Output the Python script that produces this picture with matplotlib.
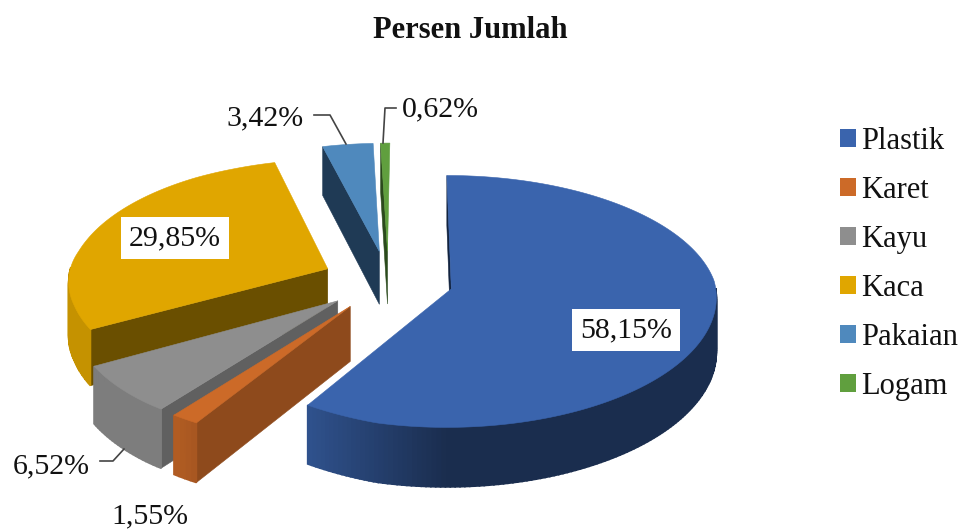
import numpy as np
import matplotlib
matplotlib.use("Agg")
import matplotlib.pyplot as plt
from matplotlib.patches import Polygon, Patch

plt.rcParams['font.family'] = ['Liberation Serif', 'DejaVu Serif']

# --- data ---
categories = ['Plastik', 'Karet', 'Kayu', 'Kaca', 'Pakaian', 'Logam']
values = [58.15, 1.55, 6.52, 29.85, 3.42, 0.62]
title = 'Persen Jumlah'

# --- style ---
top_colors = ['#3A64AD', '#CC6A28', '#8E8E8E', '#E0A600', '#4F89BD', '#609F3E']
cut_colors = ['#12233F', '#8E4A1C', '#606060', '#6A4F00', '#1F3A55', '#2B4A1C']

# --- layout (pixel space) ---
W, H = 963, 529
CX, CY, RX, RY, K, DEPTH, EXPLODE = 388, 281, 263, 125, 0.087, 54, 0.25
label_pos = [(626, 330), (150, 516), (51, 466.5), (175, 238), (265, 118.5), (440, 109.5)]
boxed = [True, False, False, True, False, False]
leaders = {2: [(100, 461), (113, 461), (124, 449)],
           4: [(314, 115), (330, 115), (346, 144)],
           5: [(396, 108), (385, 108), (383, 143)]}


def project(u, v, z=0.0):
    s = 1.0 / (1.0 + K * v)
    x = CX + RX * u * s
    y = CY - RY * v * s + DEPTH * z * s
    # small corrections for the reference's camera
    x += 11 * min(v, 0.0)
    x += 3 * np.clip(v, 0, 1) * np.clip((0.1 - u) / 0.1, 0, 1)
    x += 4 * np.clip((-u - 0.8) / 0.4, 0, 1)
    y -= 8 * np.clip(-u / 0.6, 0, 1) * np.clip(0.5 - 2 * v, 0, 1)
    y += 3 * np.clip(v, 0, 1)
    return x, y


def shade(hex_color, f):
    rgb = np.array(matplotlib.colors.to_rgb(hex_color)) * f
    return tuple(np.clip(rgb, 0, 1))


def wall_factor(theta):
    return min(0.88, 0.45 + 0.75 * max(0.0, -np.cos(theta)))


fig = plt.figure(figsize=(W / 100, H / 100), dpi=100)
ax = fig.add_axes([0, 0, 1, 1])
ax.set_xlim(0, W)
ax.set_ylim(H, 0)
ax.axis('off')

fractions = np.array(values) / np.sum(values)
edges = np.pi / 2 - 2 * np.pi * np.concatenate([[0], np.cumsum(fractions)])
mids = (edges[:-1] + edges[1:]) / 2
order = np.argsort(-np.sin(mids))


def add_poly(pts, color, z, lw=0.4):
    ax.add_patch(Polygon(pts, closed=True, facecolor=color, edgecolor=color,
                         linewidth=lw, zorder=z))


for rank, i in enumerate(order):
    a, b = edges[i], edges[i + 1]
    ox, oy = EXPLODE * np.cos(mids[i]), EXPLODE * np.sin(mids[i])
    thetas = np.linspace(a, b, max(4, int((a - b) * 60)))
    z = 2 + rank
    # cut faces that look toward the viewer
    for ang, visible in ((a, np.cos(a) < 1e-6), (b, np.cos(b) > 1e-6)):
        if visible:
            ou, ov = ox + np.cos(ang), oy + np.sin(ang)
            add_poly([project(ox, oy), project(ou, ov),
                      project(ou, ov, 1), project(ox, oy, 1)], cut_colors[i], z)
    # rim
    for t0, t1 in zip(thetas[:-1], thetas[1:]):
        if np.sin((t0 + t1) / 2) < 0:
            u0, v0 = ox + np.cos(t0), oy + np.sin(t0)
            u1, v1 = ox + np.cos(t1), oy + np.sin(t1)
            add_poly([project(u0, v0), project(u1, v1),
                      project(u1, v1, 1), project(u0, v0, 1)],
                     shade(top_colors[i], wall_factor((t0 + t1) / 2)), z, lw=1.2)
    # top
    top = [project(ox, oy)] + [project(ox + np.cos(t), oy + np.sin(t)) for t in thetas]
    add_poly(top, top_colors[i], z + 0.5)

# labels
for i, v in enumerate(values):
    txt = f'{v:.2f}'.replace('.', ',') + '%'
    bbox = dict(facecolor='white', edgecolor='none', pad=6) if boxed[i] else None
    ax.text(*label_pos[i], txt, fontsize=21.5, ha='center', va='center',
            color='#111111', bbox=bbox, zorder=20)
for pts in leaders.values():
    xs, ys = zip(*pts)
    ax.plot(xs, ys, color='#444444', lw=1.2, zorder=19)

ax.text(470, 30, title, fontsize=22, fontweight='bold', ha='center', va='center', color='#111111')

handles = [Patch(facecolor=c, edgecolor='none') for c in top_colors]
ax.legend(handles, categories, loc='upper left', bbox_to_anchor=(840 / W, 1 - 127 / H),
          frameon=False, fontsize=22, handlelength=0.52, handleheight=0.52,
          handletextpad=0.17, labelspacing=0.655, borderpad=0, borderaxespad=0,
          labelcolor='#111111')

fig.savefig('out.png', dpi=100, facecolor='white')
